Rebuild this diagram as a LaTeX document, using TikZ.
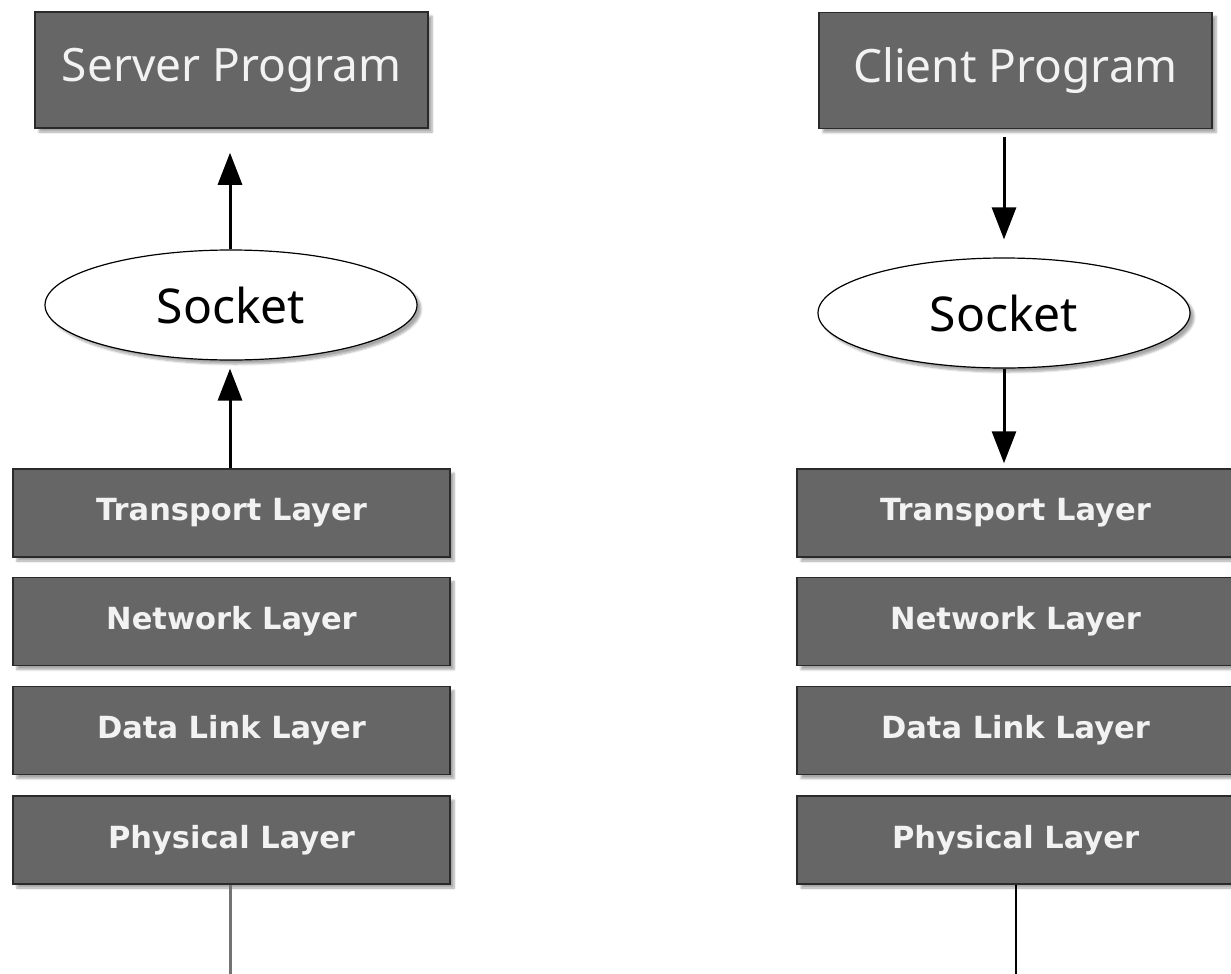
\documentclass[tikz,border=0pt]{standalone}
\usepackage{fontspec}
\setmainfont{Noto Sans}
\newfontfamily\layerfont{DejaVu Sans}
\usetikzlibrary{shapes.geometric,arrows.meta,shadows.blur}
\definecolor{boxfill}{HTML}{666666}
\definecolor{boxline}{HTML}{2A2A2A}
\definecolor{boxtext}{HTML}{F2F2F2}
\tikzset{
  shd/.style={blur shadow={shadow xshift=4pt,shadow yshift=-4pt,shadow blur steps=6,shadow opacity=35}},
  progbox/.style={shd,draw=boxline,line width=1.5pt,fill=boxfill,text=boxtext,inner sep=0pt,
    minimum width=393pt,minimum height=116pt,font=\fontsize{46}{50}\selectfont},
  layerbox/.style={shd,draw=boxline,line width=1.5pt,fill=boxfill,text=boxtext,inner sep=0pt,
    minimum width=437pt,minimum height=88pt,font=\layerfont\bfseries\fontsize{30.5}{34}\selectfont},
  sockshape/.style={shd,ellipse,draw=black,line width=1.2pt,fill=white,inner sep=0pt,
    minimum width=372pt,minimum height=110pt,font=\fontsize{48}{52}\selectfont},
  flow/.style={line width=3pt,-{Triangle[length=32pt,width=24pt]}},
  wire/.style={line width=3pt,draw=black!55},
  wirethin/.style={line width=1.6pt,draw=black}
}
\begin{document}
\begin{tikzpicture}[x=1pt,y=-1pt]
\useasboundingbox (0,0) rectangle (1231,974);
\clip (0,0) rectangle (1231,974);
% server
\node[progbox] (sp) at (231.5,70) {Server Program};
\node[sockshape] (ss) at (231,305) {Socket};
\node[layerbox] (st) at (231.5,513) {Transport Layer};
\node[layerbox] (sn) at (231.5,621.5) {Network Layer};
\node[layerbox] (sd) at (231.5,730.5) {Data Link Layer};
\node[layerbox] (sph) at (231.5,840) {Physical Layer};
\coordinate (sground) at (230,974);
% client
\node[progbox] (cp) at (1015.5,70.5) {Client Program};
\node[sockshape] (cs) at (1004,313) {Socket};
\node[layerbox] (ct) at (1015.5,513) {Transport Layer};
\node[layerbox] (cn) at (1015.5,621.5) {Network Layer};
\node[layerbox] (cd) at (1015.5,730.5) {Data Link Layer};
\node[layerbox] (cph) at (1015.5,840) {Physical Layer};
\coordinate (cground) at (1016,974);
% connectors
\draw[flow,shorten >=24pt] (ss.north -| sground) -- (sp.south -| sground);
\draw[flow,shorten >=8pt] (st.north -| sground) -- (ss.south -| sground);
\draw[flow,shorten <=8pt,shorten >=18pt] (cp.south -| cs.center) -- (cs.north);
\draw[flow,shorten >=5pt] (cs.south) -- (ct.north -| cs.center);
\draw[wire] (sph.south -| sground) -- (sground);
\draw[wirethin] (cph.south -| cground) -- (cground);
\end{tikzpicture}
\end{document}
